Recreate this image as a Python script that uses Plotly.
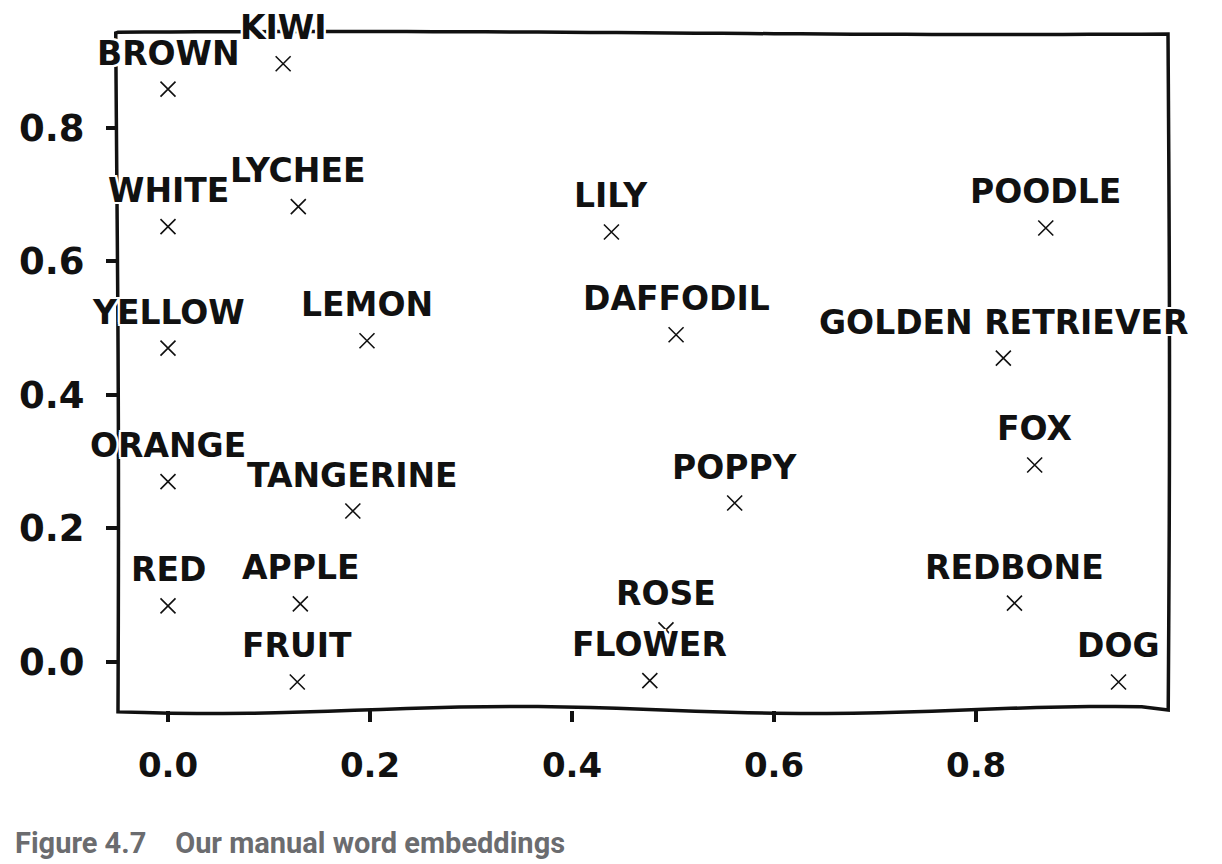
import math
import plotly.graph_objects as go

words = ["BROWN", "KIWI", "WHITE", "LYCHEE", "LILY", "POODLE", "YELLOW", "LEMON",
         "DAFFODIL", "GOLDEN RETRIEVER", "ORANGE", "TANGERINE", "POPPY", "FOX",
         "RED", "APPLE", "ROSE", "REDBONE", "FRUIT", "FLOWER", "DOG"]
x_vals = [0.0, 0.114, 0.0, 0.129, 0.439, 0.869, 0.0, 0.197,
          0.503, 0.827, 0.0, 0.183, 0.561, 0.858,
          0.0, 0.131, 0.493, 0.838, 0.128, 0.477, 0.941]
y_vals = [0.858, 0.896, 0.652, 0.682, 0.644, 0.650, 0.470, 0.481,
          0.490, 0.455, 0.270, 0.226, 0.238, 0.295,
          0.084, 0.087, 0.048, 0.088, -0.030, -0.028, -0.030]
tick_vals = [0.0, 0.2, 0.4, 0.6, 0.8]
tick_text = ["0.0", "0.2", "0.4", "0.6", "0.8"]
caption = "Figure 4.7\u00a0\u00a0\u00a0\u00a0Our manual word embeddings"

W, H = 1222, 864
ML, MR, MT, MB = 118, 54, 33, 154
PW, PH = W - ML - MR, H - MT - MB

FONT = "DejaVu Sans, Verdana, sans-serif"
halo = ", ".join(f"{dx}px {dy}px 0 white" for dx in (-2, 0, 2) for dy in (-2, 0, 2))

fig = go.Figure()
fig.add_trace(go.Scatter(
    x=x_vals, y=y_vals, mode="markers",
    marker=dict(symbol="x-thin", size=15, line=dict(width=1.6, color="#111")),
    hoverinfo="skip", showlegend=False, cliponaxis=False,
))

for w, xv, yv in zip(words, x_vals, y_vals):
    fig.add_annotation(x=xv, y=yv, text=w, showarrow=False, yshift=36,
                       xanchor="center", yanchor="middle",
                       font=dict(family=FONT, size=33, color="#111", weight=700,
                                 shadow=halo))

# hand-drawn style frame (paper coords, small wobble)
def px_x(p):
    return p / PW
def px_y(p):
    return p / PH

pts = []
n = 40
for i in range(n + 1):  # top edge left->right
    t = i / n
    pts.append((t, 1 + px_y(1.5 * math.sin(t * 5.0 + 0.5))))
for i in range(1, n + 1):  # right edge top->bottom
    t = i / n
    pts.append((1 + px_x(1.5 * math.sin(t * 3.0)), 1 - t))
for i in range(1, n + 1):  # bottom edge right->left
    t = i / n
    pts.append((1 - t, px_y(3.5 * math.sin(t * 11.0 + 1.0))))
for i in range(1, n + 1):  # left edge bottom->top
    t = i / n
    pts.append((px_x(-1.5 * t + 1.0 * math.sin(t * 4.0)), t))
path = "M " + " L ".join(f"{a:.5f},{b:.5f}" for a, b in pts) + " Z"
fig.add_shape(type="path", path=path, xref="paper", yref="paper",
              line=dict(color="#111", width=3.5), layer="above")

axis_common = dict(showgrid=False, zeroline=False, showline=False,
                   ticks="outside", ticklen=11, tickwidth=3.5, tickcolor="#111",
                   tickvals=tick_vals, ticktext=tick_text)
fig.update_xaxes(range=[-0.0495, 0.990], ticklabelstandoff=14,
                 tickfont=dict(family=FONT, size=34, color="#111", weight=700),
                 **axis_common)
fig.update_yaxes(range=[-0.072, 0.942], ticklabelstandoff=14,
                 tickfont=dict(family=FONT, size=37, color="#111", weight=700),
                 **axis_common)

fig.add_annotation(
    text=caption, showarrow=False,
    x=(13 - ML) / PW, xref="paper", y=(H - 843 - MB) / PH, yref="paper",
    yanchor="middle", xanchor="left",
    font=dict(family="Liberation Sans Narrow, Roboto, sans-serif", size=29,
              color="#6b6c6f", weight=700))

fig.update_layout(
    width=W, height=H, margin=dict(l=ML, r=MR, t=MT, b=MB),
    plot_bgcolor="white", paper_bgcolor="white",
)
fig.write_html("out.html")
